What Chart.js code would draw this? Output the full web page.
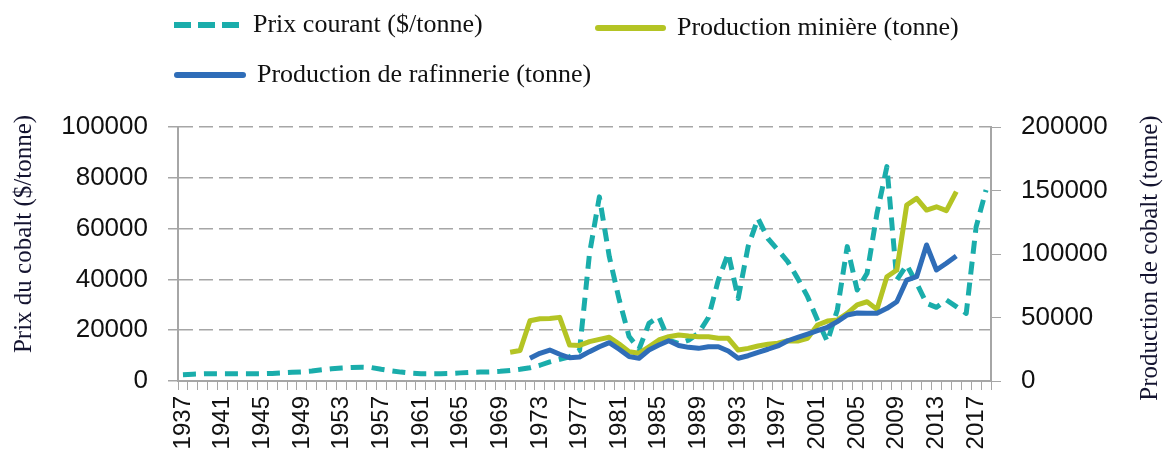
<!DOCTYPE html>
<html>
<head>
<meta charset="utf-8">
<script src="https://cdn.jsdelivr.net/npm/chart.js@4"></script>
<style>
  html, body { margin: 0; padding: 0; background: #fff; }
  #wrap { width: 1170px; height: 462px; position: relative; }
</style>
</head>
<body>
<div id="wrap"><canvas id="myChart"></canvas></div>
<script>
// years 1937 - 2018
var years = [];
for (let y = 1937; y <= 2018; y++) years.push(String(y));

// prix courant ($/tonne), 1937-2018
var prix = [
  2500, 2700, 2800, 2900, 2900, 2900, 2900, 2900, 2900, 3000,
  3200, 3400, 3600, 3900, 4400, 4800, 5100, 5300, 5400, 5300,
  4600, 4000, 3500, 3100, 2900, 2900, 2900, 3000, 3200, 3400,
  3500, 3600, 3800, 4100, 4600, 5200, 6200, 7500, 8500, 9500,
  12000, 50000, 72500, 49000, 32000, 17500, 12500, 22700, 25300, 16100,
  14800, 16100, 18800, 25000, 39800, 50300, 32500, 52900, 64000, 56100,
  51600, 47000, 40400, 33200, 24000, 15500, 28000, 52900, 35800, 42400,
  66000, 84400, 39800, 45700, 38500, 30600, 29000, 31900, 29300, 26600,
  60700, 75200
];

// production miniere (tonne), 1970-2015
var miniere = [
  22600, 24000, 47500, 49000, 49300, 50100, 28300, 28000, 31000, 32800,
  34400, 29100, 23100, 21800, 27000, 32300, 34900, 36200, 35400, 34900,
  34900, 33600, 33600, 24400, 25700, 27600, 28900, 29700, 31700, 31500,
  33600, 44100, 47200, 48000, 53300, 60000, 62400, 56400, 82100, 87400,
  138600, 143800, 134600, 137200, 134100, 149100
];

// production de rafinnerie (tonne), 1972-2015
var raffinerie = [
  17900, 21800, 24400, 21000, 18300, 18900, 23100, 27000, 30200, 25000,
  19200, 17900, 24400, 28300, 31700, 28000, 26500, 25700, 27000, 27000,
  23600, 17900, 19900, 22600, 25000, 27600, 31700, 34400, 37000, 39600,
  42300, 46700, 52000, 53500, 53300, 53300, 57200, 62400, 79500, 82100,
  107100, 87400, 92700, 98400
];

function fromYear(start, values) {
  var out = years.map(() => null);
  var i0 = years.indexOf(String(start));
  values.forEach((v, i) => { out[i0 + i] = v; });
  return out;
}

var colPrix = "#1aadab";
var colMin = "#b4c424";
var colRaf = "#2f6db8";
var gridCol = "#a6a6a6";

// legend drawn at fixed spots like the original
var legendItems = [
  { text: "Prix courant ($/tonne)", color: colPrix, dash: [17, 7], x1: 174, x2: 239, y: 25 },
  { text: "Production minière (tonne)", color: colMin, dash: [], x1: 598, x2: 663, y: 28 },
  { text: "Production de rafinnerie (tonne)", color: colRaf, dash: [], x1: 177, x2: 243, y: 75 }
];

// axis titles, both read from bottom to top
var axisTitles = [
  { text: "Prix du cobalt ($/tonne)", x: 24, y: 234 },
  { text: "Production de cobalt (tonne)", x: 1150, y: 258 }
];

const labelsPlugin = {
  id: "fixedLabels",
  afterDraw(chart) {
    const ctx = chart.ctx;
    ctx.save();
    legendItems.forEach(it => {
      ctx.beginPath();
      ctx.strokeStyle = it.color;
      ctx.lineWidth = 6;
      ctx.lineCap = it.dash.length ? "butt" : "round";
      ctx.setLineDash(it.dash);
      ctx.moveTo(it.x1, it.y);
      ctx.lineTo(it.x2, it.y);
      ctx.stroke();
      ctx.setLineDash([]);
      ctx.fillStyle = "#111";
      ctx.font = "26px 'Liberation Serif'";
      ctx.textBaseline = "middle";
      ctx.textAlign = "left";
      ctx.fillText(it.text, it.x2 + 14, it.y);
    });
    axisTitles.forEach(t => {
      ctx.save();
      ctx.translate(t.x, t.y);
      ctx.rotate(-Math.PI / 2);
      ctx.fillStyle = "#141430";
      ctx.font = "25px 'Liberation Serif'";
      ctx.textAlign = "center";
      ctx.textBaseline = "middle";
      ctx.fillText(t.text, 0, 0);
      ctx.restore();
    });
    ctx.restore();
  }
};

const myChartRef = document.getElementById("myChart").getContext("2d");
new Chart(myChartRef, {
  type: "line",
  data: {
    labels: years,
    datasets: [
      {
        label: "Prix courant ($/tonne)",
        data: prix,
        yAxisID: "y",
        borderColor: colPrix,
        borderWidth: 5,
        borderDash: [13, 8],
        order: 3
      },
      {
        label: "Production minière (tonne)",
        data: fromYear(1970, miniere),
        yAxisID: "y1",
        borderColor: colMin,
        borderWidth: 5,
        order: 2
      },
      {
        label: "Production de rafinnerie (tonne)",
        data: fromYear(1972, raffinerie),
        yAxisID: "y1",
        borderColor: colRaf,
        borderWidth: 5,
        order: 1
      }
    ]
  },
  options: {
    responsive: true,
    maintainAspectRatio: false,
    animation: false,
    layout: { padding: { top: 127, left: 0, right: 0, bottom: 0 } },
    elements: {
      point: { radius: 0 },
      line: { tension: 0, borderJoinStyle: "round", fill: false }
    },
    plugins: {
      legend: { display: false },
      tooltip: { enabled: false }
    },
    scales: {
      x: {
        offset: true,
        afterFit: s => { s.height = 81; },
        grid: { offset: true, drawOnChartArea: false, tickLength: 9, color: gridCol, lineWidth: 1 },
        border: { color: gridCol, width: 2 },
        ticks: {
          autoSkip: false,
          minRotation: 90,
          maxRotation: 90,
          padding: 6,
          color: "#111",
          font: { family: "'Liberation Sans'", size: 24 },
          callback: function (v, i) { return i % 4 === 0 ? years[i] : ""; }
        }
      },
      y: {
        position: "left",
        min: 0,
        max: 100000,
        afterFit: s => { s.width = 178; },
        grid: { color: gridCol, lineWidth: 1.5, tickLength: 10, tickBorderDash: [], tickColor: gridCol },
        border: { color: gridCol, width: 2, dash: [14, 6] },
        ticks: {
          stepSize: 20000,
          padding: 20,
          color: "#111",
          font: { family: "'Liberation Sans'", size: 26 },
          callback: v => String(v)
        }
      },
      y1: {
        position: "right",
        min: 0,
        max: 200000,
        afterFit: s => { s.width = 179; },
        grid: { drawOnChartArea: false, tickLength: 10, color: gridCol },
        border: { color: gridCol, width: 2 },
        ticks: {
          stepSize: 50000,
          padding: 20,
          color: "#111",
          font: { family: "'Liberation Sans'", size: 26 },
          callback: v => String(v)
        }
      }
    }
  },
  plugins: [labelsPlugin]
});
</script>
</body>
</html>
